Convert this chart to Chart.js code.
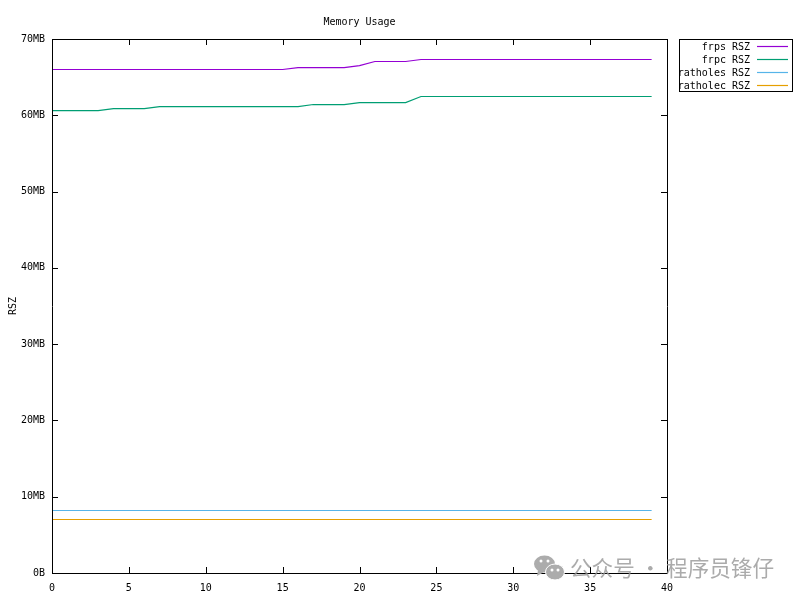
<!DOCTYPE html>
<html>
<head>
<meta charset="utf-8">
<title>Memory Usage</title>
<script src="https://cdn.jsdelivr.net/npm/chart.js@4/dist/chart.umd.min.js"></script>
<style>
  body { margin: 0; background: #fff; }
  canvas { display: block; }
</style>
</head>
<body>
<canvas id="my-chart" width="800" height="600"></canvas>
<script>
// ************************* DATA ***************************

let seconds = [0, 1, 2, 3, 4, 5, 6, 7, 8, 9, 10, 11, 12, 13, 14, 15, 16, 17, 18, 19, 20, 21, 22, 23, 24, 25, 26, 27, 28, 29, 30, 31, 32, 33, 34, 35, 36, 37, 38, 39];
let frpsRsz = [66, 66, 66, 66, 66, 66, 66, 66, 66, 66, 66, 66, 66, 66, 66, 66, 66.26, 66.26, 66.26, 66.26, 66.52, 67.05, 67.05, 67.05, 67.31, 67.31, 67.31, 67.31, 67.31, 67.31, 67.31, 67.31, 67.31, 67.31, 67.31, 67.31, 67.31, 67.31, 67.31, 67.31];
let frpcRsz = [60.62, 60.62, 60.62, 60.62, 60.88, 60.88, 60.88, 61.14, 61.14, 61.14, 61.14, 61.14, 61.14, 61.14, 61.14, 61.14, 61.14, 61.41, 61.41, 61.41, 61.67, 61.67, 61.67, 61.67, 62.46, 62.46, 62.46, 62.46, 62.46, 62.46, 62.46, 62.46, 62.46, 62.46, 62.46, 62.46, 62.46, 62.46, 62.46, 62.46];
let ratholesRsz = [8.19, 8.19, 8.19, 8.19, 8.19, 8.19, 8.19, 8.19, 8.19, 8.19, 8.19, 8.19, 8.19, 8.19, 8.19, 8.19, 8.19, 8.19, 8.19, 8.19, 8.19, 8.19, 8.19, 8.19, 8.19, 8.19, 8.19, 8.19, 8.19, 8.19, 8.19, 8.19, 8.19, 8.19, 8.19, 8.19, 8.19, 8.19, 8.19, 8.19];
let ratholecRsz = [7.01, 7.01, 7.01, 7.01, 7.01, 7.01, 7.01, 7.01, 7.01, 7.01, 7.01, 7.01, 7.01, 7.01, 7.01, 7.01, 7.01, 7.01, 7.01, 7.01, 7.01, 7.01, 7.01, 7.01, 7.01, 7.01, 7.01, 7.01, 7.01, 7.01, 7.01, 7.01, 7.01, 7.01, 7.01, 7.01, 7.01, 7.01, 7.01, 7.01];
let seriesNames = ['frps RSZ', 'frpc RSZ', 'ratholes RSZ', 'ratholec RSZ'];
let seriesColors = ['#9400d3', '#009e73', '#56b4e9', '#e69f00'];
let yTickLabels = ['0B', '10MB', '20MB', '30MB', '40MB', '50MB', '60MB', '70MB'];
let xTickLabels = ['0', '5', '10', '15', '20', '25', '30', '35', '40'];
let watermark = '公众号 · 程序员锋仔';

let monoFont = '"DejaVu Sans Mono", monospace';

// ********************** HELPER FUNCTIONS **************************

function makeDataset(index, values) {
  return {
    label: seriesNames[index],
    data: values,
    borderColor: seriesColors[index],
    borderWidth: 1.2,
    pointRadius: 0,
    tension: 0
  };
}

// gnuplot style frame, ticks point inwards and are mirrored
function drawFrame(chart) {
  let c = chart.ctx;
  let area = chart.chartArea;
  c.save();
  c.strokeStyle = '#000';
  c.lineWidth = 1;
  c.beginPath();
  c.rect(area.left + 0.5, area.top + 0.5, area.width, area.height);
  chart.scales.x.ticks.forEach(function (tick) {
    let x = Math.round(chart.scales.x.getPixelForValue(tick.value)) + 0.5;
    c.moveTo(x, area.top);
    c.lineTo(x, area.top + 6);
    c.moveTo(x, area.bottom);
    c.lineTo(x, area.bottom - 6);
  });
  chart.scales.y.ticks.forEach(function (tick) {
    let y = Math.round(chart.scales.y.getPixelForValue(tick.value)) + 0.5;
    c.moveTo(area.left, y);
    c.lineTo(area.left + 6, y);
    c.moveTo(area.right, y);
    c.lineTo(area.right - 6, y);
  });
  c.stroke();
  c.restore();
}

function drawLegend(chart) {
  let c = chart.ctx;
  c.save();
  c.beginPath();
  c.rect(679, 39, 114, 52);
  c.clip();
  c.font = '10px ' + monoFont;
  c.textAlign = 'right';
  c.textBaseline = 'middle';
  c.fillStyle = '#000';
  chart.data.datasets.forEach(function (ds, i) {
    let y = 46.5 + i * 13;
    c.fillText(ds.label, 750, y + 1);
    c.strokeStyle = ds.borderColor;
    c.lineWidth = 1.2;
    c.beginPath();
    c.moveTo(757, y);
    c.lineTo(788, y);
    c.stroke();
  });
  c.restore();
  c.save();
  c.strokeStyle = '#000';
  c.strokeRect(679.5, 39.5, 113, 52);
  c.restore();
}

function drawWatermark(chart) {
  let c = chart.ctx;
  c.save();
  c.fillStyle = 'rgb(172, 172, 172)';
  c.beginPath();
  c.ellipse(544.5, 564, 10.5, 8.5, 0, 0, Math.PI * 2);
  c.fill();
  c.beginPath();
  c.moveTo(538, 570);
  c.lineTo(537, 576);
  c.lineTo(544, 572);
  c.fill();
  c.strokeStyle = '#fff';
  c.beginPath();
  c.ellipse(555, 572, 9.5, 8, 0, 0, Math.PI * 2);
  c.fill();
  c.stroke();
  c.fillStyle = '#fff';
  [[541, 561], [548, 561], [552, 570], [558, 570]].forEach(function (eye) {
    c.beginPath();
    c.arc(eye[0], eye[1], 1.5, 0, Math.PI * 2);
    c.fill();
  });
  c.font = '21.6px "Noto Sans CJK SC"';
  c.textBaseline = 'middle';
  c.fillStyle = 'rgba(150, 150, 150, 0.8)';
  c.fillText(watermark, 570, 568);
  c.restore();
}

let decorations = {
  id: 'decorations',
  afterDraw: function (chart) {
    drawFrame(chart);
    drawLegend(chart);
    drawWatermark(chart);
  }
};

// ********************** CHART ********************

let ctx = document.getElementById('my-chart').getContext('2d');

new Chart(ctx, {
  type: 'line',
  data: {
    labels: seconds,
    datasets: [
      makeDataset(0, frpsRsz),
      makeDataset(1, frpcRsz),
      makeDataset(2, ratholesRsz),
      makeDataset(3, ratholecRsz)
    ]
  },
  options: {
    responsive: false,
    animation: false,
    devicePixelRatio: 1,
    layout: { padding: { top: 0, right: 133, bottom: 0, left: 0 } },
    font: { family: monoFont },
    plugins: {
      legend: { display: false },
      tooltip: { enabled: false },
      title: {
        display: true,
        text: 'Memory Usage',
        fullSize: false,
        color: '#000',
        font: { family: monoFont, size: 10, weight: 'normal' },
        padding: { top: 16, bottom: 11 }
      }
    },
    scales: {
      x: {
        type: 'linear',
        min: 0,
        max: 40,
        grid: { display: false, tickLength: 0 },
        border: { display: false },
        afterFit: function (scale) { scale.height = 27; },
        ticks: {
          stepSize: 5,
          maxRotation: 0,
          padding: 9,
          color: '#000',
          font: { family: monoFont, size: 10 },
          callback: function (value, index) { return xTickLabels[index]; }
        }
      },
      y: {
        min: 0,
        max: 70,
        grid: { display: false, tickLength: 0 },
        border: { display: false },
        afterFit: function (scale) { scale.width = 52; },
        title: {
          display: true,
          text: 'RSZ',
          color: '#000',
          font: { family: monoFont, size: 10 },
          padding: { top: 7, bottom: 0 }
        },
        ticks: {
          stepSize: 10,
          padding: 7,
          color: '#000',
          font: { family: monoFont, size: 10 },
          callback: function (value, index) { return yTickLabels[index]; }
        }
      }
    }
  },
  plugins: [decorations]
});
</script>
</body>
</html>
